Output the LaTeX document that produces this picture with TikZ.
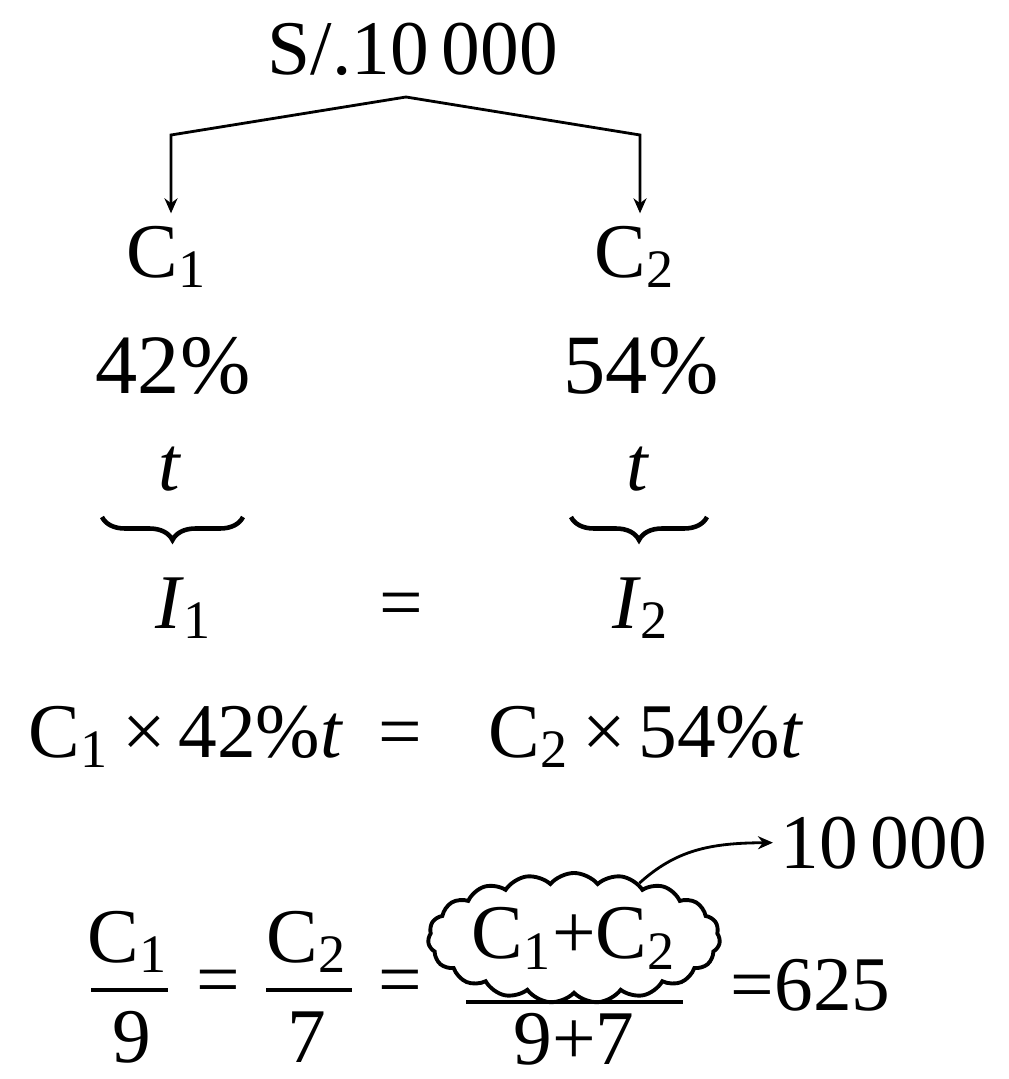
\documentclass[tikz,border=0pt]{standalone}
\usepackage{fontspec}
\setmainfont{Liberation Serif}
\usetikzlibrary{arrows.meta,shapes.symbols,decorations.pathreplacing}

\begin{document}
\begin{tikzpicture}[x=0.01cm,y=-0.01cm,
    every node/.style={font=\fontsize{22}{26}\selectfont},
    pct/.style={font=\fontsize{24}{29}\selectfont},
    linkarr/.style={-{Stealth[length=1.5mm,width=1.3mm]},line width=0.8pt},
    ubrace/.style={decorate,decoration={brace,mirror,amplitude=0.23cm},line width=1.3pt},
    fbar/.style={line width=1pt}]
\useasboundingbox (0,0) rectangle (1008,1079);
\node[anchor=base] (tot) at (413,75) {S/.10\,000};
\coordinate (apex) at (406,97);
\coordinate (lk) at (171,135);
\coordinate (rk) at (640,135);
\node[anchor=base] (c1) at (167,277) {C\textsubscript{1}};
\node[anchor=base] (c2) at (635,277) {C\textsubscript{2}};
\draw[linkarr] (apex) -- (lk) -- (lk |- c1.north);
\draw[linkarr] (apex) -- (rk) -- (rk |- c2.north);
\node[pct,anchor=base] (r1) at (173,393) {42\%};
\node[pct,anchor=base] (r2) at (641,393) {54\%};
\node[anchor=base] (t1) at (170,490) {\textit{t}};
\node[anchor=base] (t2) at (638,490) {\textit{t}};
\draw[ubrace] (102,517) -- (243,517);
\draw[ubrace] (571,517) -- (707,517);
\node[anchor=base] (i1) at (184,628) {\textit{I}\textsubscript{1}};
\node[anchor=base] (ieq) at (401,628) {=};
\node[anchor=base] (i2) at (641,628) {\textit{I}\textsubscript{2}};
\node[anchor=base west,inner sep=0pt] (p1) at (28,757) {C\textsubscript{1}\,×\,42\%\textit{t}};
\node[anchor=base] (peq) at (400,757) {=};
\node[anchor=base west,inner sep=0pt] (p2) at (488,757) {C\textsubscript{2}\,×\,54\%\textit{t}};
\node[anchor=base] (n1) at (128,962) {C\textsubscript{1}};
\node[anchor=base,inner sep=0pt] (d1) at (132,1062) {9};
\draw[fbar] (91,990) -- (168,990);
\node[anchor=base] (q1) at (218,1005) {=};
\node[anchor=base] (n2) at (307,962) {C\textsubscript{2}};
\node[anchor=base,inner sep=0pt] (d2) at (307,1062) {7};
\draw[fbar] (266,990) -- (352,990);
\node[anchor=base] (q2) at (400,1005) {=};
\node[cloud,draw,cloud puffs=19,cloud puff arc=100,cloud ignores aspect,minimum width=2.85cm,minimum height=1.3cm,
      inner sep=0pt,line width=1.1pt] (sum) at (574,938) {C\textsubscript{1}+C\textsubscript{2}};
\draw[fbar] (466,1002) -- (683,1002);
\node[anchor=base,inner sep=0pt] (d3) at (574,1064) {9+7};
\node[anchor=base west,inner sep=0pt] (res) at (730,1010) {=625};
\node[anchor=base west,inner sep=0pt] (tenk) at (780,868) {10\,000};
\draw[linkarr] (sum.40) .. controls (676,850) and (710,843) .. ([xshift=-2pt]tenk.west);
\end{tikzpicture}
\end{document}
